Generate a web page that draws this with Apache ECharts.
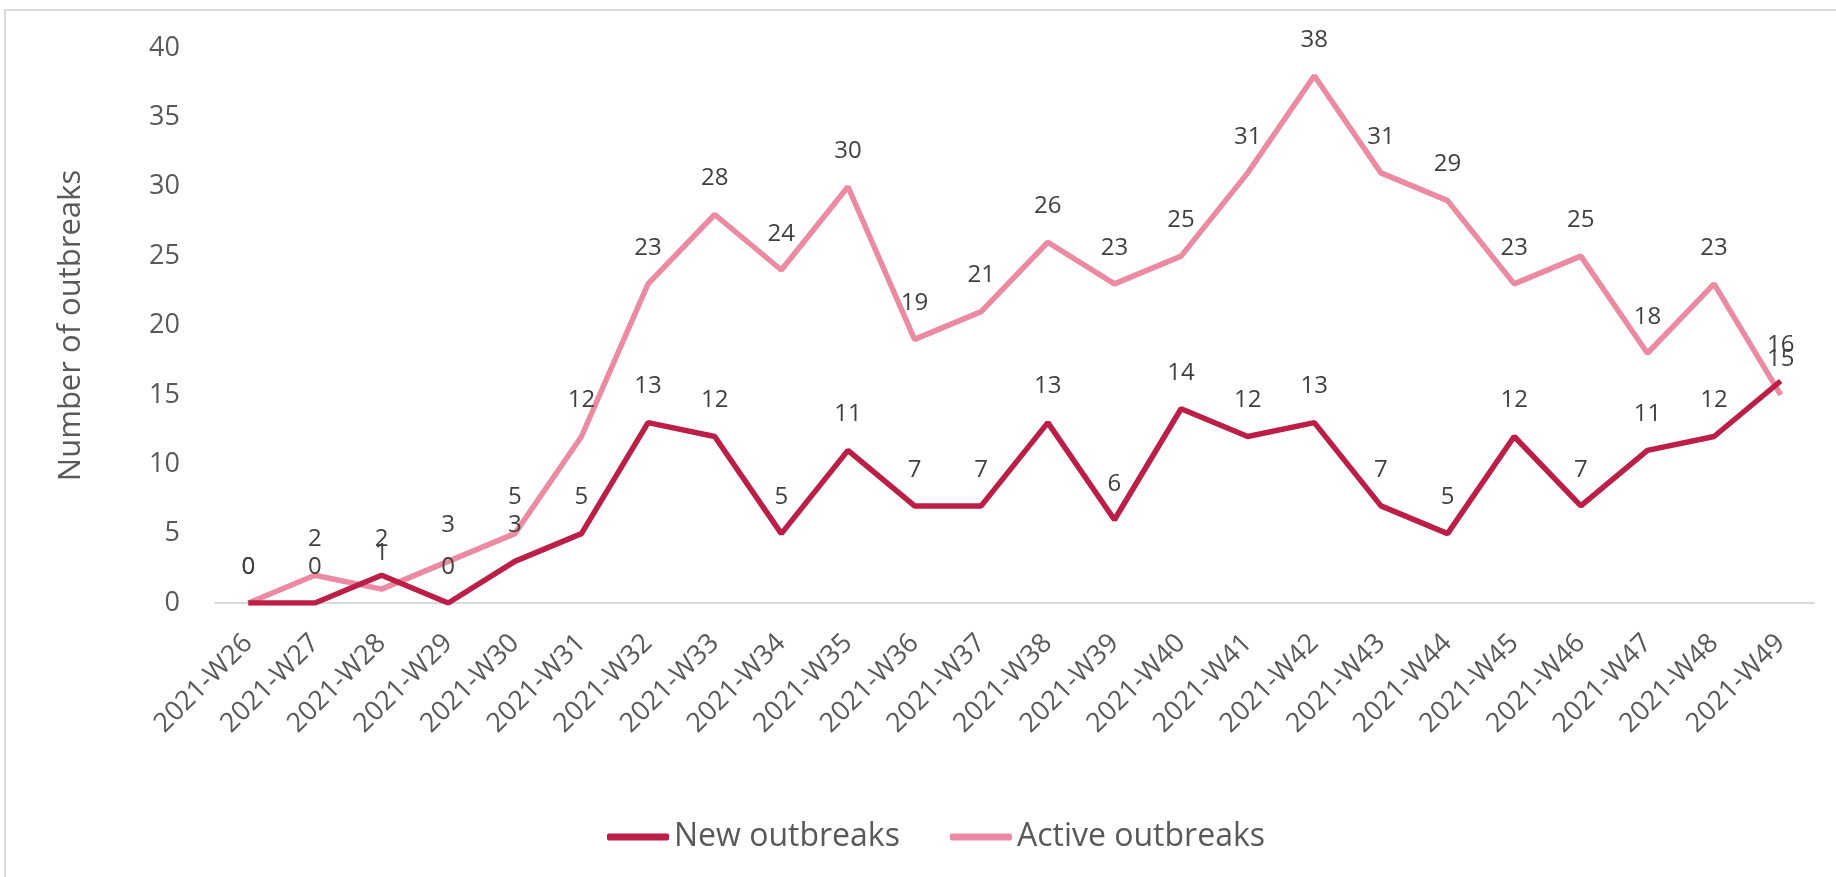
<!DOCTYPE html>
<html>
<head>
<meta charset="utf-8">
<script src="https://cdn.jsdelivr.net/npm/echarts@6/dist/echarts.min.js"></script>
<style>
html,body{margin:0;padding:0;background:#fff;}
#chart{width:1836px;height:877px;}
</style>
</head>
<body>
<div id="chart"></div>
<script>
const categories = ['2021-W26','2021-W27','2021-W28','2021-W29','2021-W30','2021-W31','2021-W32','2021-W33','2021-W34','2021-W35','2021-W36','2021-W37','2021-W38','2021-W39','2021-W40','2021-W41','2021-W42','2021-W43','2021-W44','2021-W45','2021-W46','2021-W47','2021-W48','2021-W49'];
const newOutbreaks = [0,0,2,0,3,5,13,12,5,11,7,7,13,6,14,12,13,7,5,12,7,11,12,16];
const activeOutbreaks = [0,2,1,3,5,12,23,28,24,30,19,21,26,23,25,31,38,31,29,23,25,18,23,15];
const yTicks = {min:0, max:40, interval:5};

const FONT = 'Open Sans';
const chart = echarts.init(document.getElementById('chart'), null, {renderer:'canvas'});
const labelStyle = {show:true, position:'top', distance:24, color:'#404040', fontSize:24, fontFamily:FONT};
chart.setOption({
  animation:false,
  backgroundColor:'#fff',
  textStyle:{fontFamily:FONT},
  graphic:[{type:'rect', shape:{x:5, y:10, width:1900, height:950}, style:{fill:'none', stroke:'#D9D9D9', lineWidth:2}, silent:true}],
  grid:{left:215, right:22, top:48, bottom:274, containLabel:false},
  legend:{
    left:602, top:816, itemWidth:62, itemHeight:7, itemGap:50, icon:'roundRect',
    textStyle:{fontSize:32, color:'#595959', fontFamily:FONT, padding:[0,0,0,0]},
    data:['New outbreaks','Active outbreaks']
  },
  xAxis:{
    type:'category', data:categories, boundaryGap:true,
    axisLine:{show:true, lineStyle:{color:'#D9D9D9', width:2}},
    axisTick:{show:false},
    axisLabel:{rotate:45, margin:36, fontSize:27, color:'#595959', fontFamily:FONT, interval:0}
  },
  yAxis:{
    type:'value', min:yTicks.min, max:yTicks.max, interval:yTicks.interval,
    name:'Number of outbreaks', nameLocation:'middle', nameGap:128, nameRotate:90,
    nameTextStyle:{fontSize:31, color:'#595959', fontFamily:FONT},
    axisLine:{show:false}, axisTick:{show:false}, splitLine:{show:false},
    axisLabel:{margin:35, fontSize:27, color:'#595959', fontFamily:FONT}
  },
  series:[
    {name:'New outbreaks', type:'line', data:newOutbreaks, symbol:'circle', symbolSize:0, showSymbol:true, z:3,
     lineStyle:{color:'#BC1E47', width:5.5}, itemStyle:{color:'#BC1E47'}, label:labelStyle},
    {name:'Active outbreaks', type:'line', data:activeOutbreaks, symbol:'circle', symbolSize:0, showSymbol:true, z:2,
     lineStyle:{color:'#EB8AA2', width:5.5}, itemStyle:{color:'#EB8AA2'}, label:labelStyle}
  ]
});
</script>
</body>
</html>
